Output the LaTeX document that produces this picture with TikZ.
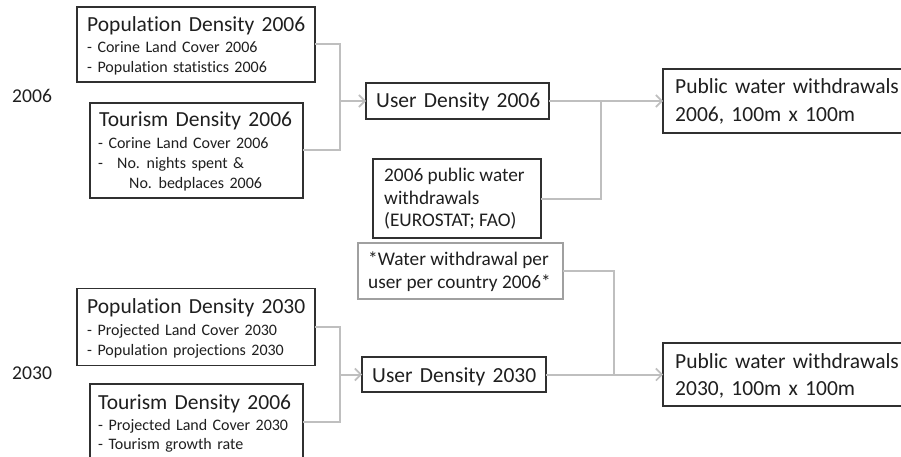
\documentclass[tikz,border=0pt]{standalone}
\usepackage{fontspec}
\setmainfont[Ligatures=NoCommon]{Carlito}
\newfontfamily\ttlfont[Ligatures=NoCommon,WordSpace=1.1]{Carlito}
\newfontfamily\subfont[Ligatures=NoCommon,WordSpace=1.5]{Carlito}
\usetikzlibrary{arrows.meta}
\definecolor{txt}{HTML}{1F1F1F}
\definecolor{conn}{HTML}{BFBFBF}
\definecolor{bord}{HTML}{303030}
\definecolor{gbord}{HTML}{A0A0A0}
\tikzset{
  box/.style={draw=bord, line width=1.3pt, inner sep=0pt, outer sep=0pt, fill=white},
  gbox/.style={draw=gbord, line width=1.3pt, inner sep=0pt, outer sep=0pt, fill=white},
  lbl/.style={anchor=base west, inner sep=0pt, text=txt},
  ttl/.style={lbl, font=\ttlfont\fontsize{21.5}{25}\selectfont},
  sub/.style={lbl, font=\subfont\fontsize{16}{19}\selectfont},
  mid/.style={lbl, font=\fontsize{19.3}{24}\selectfont},
  yr/.style={lbl, font=\fontsize{19.6}{24}\selectfont},
  ln/.style={draw=conn, line width=2pt},
  arr/.style={ln, -{Straight Barb[length=6pt,width=12pt,line width=1.6pt]}},
}
\begin{document}
\begin{tikzpicture}[x=1pt,y=-1pt]
\useasboundingbox (0,0) rectangle (901,457);
\clip (0,0) rectangle (901,457);
\fill[white] (0,0) rectangle (901,457);

% years
\node[yr] (y6) at (12,103) {2006};
\node[yr] (y30) at (12,379) {2030};

% boxes 2006
\node[box, minimum width=238pt, minimum height=75pt] (pd6) at (196,44.5) {};
\node[box, minimum width=213pt, minimum height=95pt] (td6) at (196.5,150.5) {};
\node[box, minimum width=183pt, minimum height=36pt] (ud6) at (457.5,101) {};
\node[box, minimum width=168pt, minimum height=79pt] (pw6) at (457,198.5) {};
\node[gbox, minimum width=205pt, minimum height=56pt] (ww) at (460.5,271) {};
\node[box, minimum width=250pt, minimum height=64pt] (pww6) at (788,101) {};

% boxes 2030
\node[box, minimum width=238pt, minimum height=77pt] (pd30) at (196,327) {};
\node[box, minimum width=213pt, minimum height=76pt] (td30) at (196.5,422) {};
\node[box, minimum width=184pt, minimum height=35pt] (ud30) at (454,374.5) {};
\node[box, minimum width=250pt, minimum height=63pt] (pww30) at (788,374.5) {};

% texts 2006
\node[ttl] (pd6a) at (87,32) {Population Density 2006};
\node[sub] (pd6b) at (87,53) {- Corine Land Cover 2006};
\node[sub] (pd6c) at (87,73) {- Population statistics 2006};

\node[ttl] (td6a) at (99,127) {Tourism Density 2006};
\node[sub] (td6b) at (98,149) {- Corine Land Cover 2006};
\node[sub] (td6c) at (98,168) {-};
\node[sub] (td6d) at (117,168) {No. nights spent \&};
\node[sub] (td6e) at (129,188) {No. bedplaces 2006};

\node[ttl] (ud6a) at (376,108) {User Density 2006};

\node[mid] (pw6a) at (384,182) {2006 public water};
\node[mid] (pw6b) at (384,204) {withdrawals};
\node[mid] (pw6c) at (384,226) {(EUROSTAT; FAO)};

\node[mid] (wwa) at (368,265) {*Water withdrawal per};
\node[mid] (wwb) at (368,288) {user per country 2006*};

\node[ttl] (pww6a) at (675,94) {Public water withdrawals};
\node[ttl] (pww6b) at (675,122) {2006, 100m x 100m};

% texts 2030
\node[ttl] (pd30a) at (87,313) {Population Density 2030};
\node[sub] (pd30b) at (87,335) {- Projected Land Cover 2030};
\node[sub] (pd30c) at (87,355) {- Population projections 2030};

\node[ttl] (td30a) at (98,409) {Tourism Density 2006};
\node[sub] (td30b) at (98,430) {- Projected Land Cover 2030};
\node[sub] (td30c) at (98,449) {- Tourism growth rate};

\node[ttl] (ud30a) at (372,382) {User Density 2030};

\node[ttl] (pww30a) at (675,368) {Public water withdrawals};
\node[ttl] (pww30b) at (675,395) {2030, 100m x 100m};

% junctions
\coordinate (j1) at (340,101);
\coordinate (j2) at (601,101);
\coordinate (j3) at (614,374.5);
\coordinate (j4) at (340,374.5);

% connectors
\draw[ln] (pd6.east) -| (j1) |- (td6.east);
\draw[arr] (j1) -- (ud6.west);
\draw[arr] (ud6.east) -- (pww6.west);
\draw[ln] (pw6.east) -| (j2);

\draw[ln] (pd30.east) -| (j4) |- (td30.east);
\draw[arr] (j4) -- (ud30.west);
\draw[arr] (ud30.east) -- (pww30.west);
\draw[ln] (ww.east) -| (j3);
\end{tikzpicture}
\end{document}
